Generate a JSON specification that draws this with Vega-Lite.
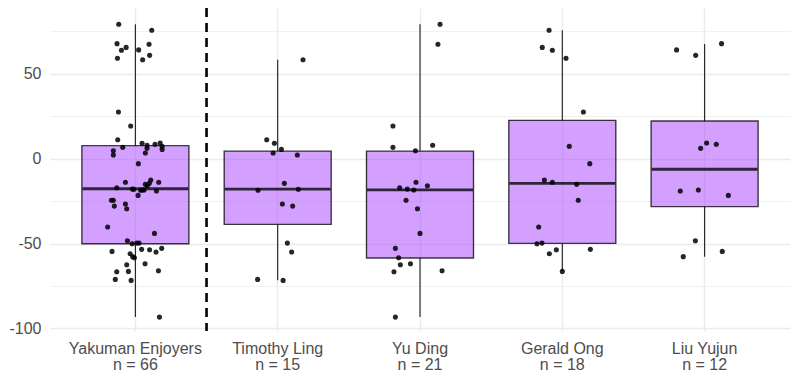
{
  "$schema": "https://vega.github.io/schema/vega-lite/v6.json",
  "width": 740,
  "height": 323,
  "autosize": {"type": "none"},
  "padding": {"left": 50, "top": 8, "right": 10, "bottom": 52},
  "background": "white",
  "config": {
    "view": {"stroke": null},
    "axis": {
      "domain": false,
      "ticks": false,
      "tickSize": 0,
      "labelFont": "Liberation Sans",
      "labelFontSize": 16,
      "labelColor": "#4D4D4D",
      "gridColor": "#EBEBEB",
      "gridWidth": 1.4,
      "title": null
    }
  },
  "datasets": {
    "boxes": [
      {"player": "Yakuman Enjoyers\nn = 66", "min": -93.3, "q1": -50.1, "median": -17.7, "q3": 7.7, "max": 79.2},
      {"player": "Timothy Ling\nn = 15", "min": -71.6, "q1": -38.7, "median": -17.9, "q3": 4.5, "max": 58.3},
      {"player": "Yu Ding\nn = 21", "min": -93.3, "q1": -58.5, "median": -18.3, "q3": 4.5, "max": 79.2},
      {"player": "Gerald Ong\nn = 18", "min": -66.4, "q1": -49.9, "median": -14.5, "q3": 22.6, "max": 75.7},
      {"player": "Liu Yujun\nn = 12", "min": -57.7, "q1": -28.2, "median": -6.2, "q3": 22.2, "max": 67.6}
    ],
    "points": [
      {"player": "Yakuman Enjoyers\nn = 66", "score": 79.2, "jitter": -0.117},
      {"player": "Yakuman Enjoyers\nn = 66", "score": 75.7, "jitter": 0.115},
      {"player": "Yakuman Enjoyers\nn = 66", "score": 67.8, "jitter": -0.129},
      {"player": "Yakuman Enjoyers\nn = 66", "score": 67.4, "jitter": 0.096},
      {"player": "Yakuman Enjoyers\nn = 66", "score": 65.6, "jitter": -0.065},
      {"player": "Yakuman Enjoyers\nn = 66", "score": 63.9, "jitter": -0.098},
      {"player": "Yakuman Enjoyers\nn = 66", "score": 64.1, "jitter": 0.023},
      {"player": "Yakuman Enjoyers\nn = 66", "score": 60.9, "jitter": 0.1},
      {"player": "Yakuman Enjoyers\nn = 66", "score": 59.2, "jitter": -0.126},
      {"player": "Yakuman Enjoyers\nn = 66", "score": 58.3, "jitter": 0.051},
      {"player": "Yakuman Enjoyers\nn = 66", "score": 27.5, "jitter": -0.119},
      {"player": "Yakuman Enjoyers\nn = 66", "score": 19.3, "jitter": -0.033},
      {"player": "Yakuman Enjoyers\nn = 66", "score": 11.2, "jitter": -0.124},
      {"player": "Yakuman Enjoyers\nn = 66", "score": 9.1, "jitter": 0.047},
      {"player": "Yakuman Enjoyers\nn = 66", "score": 7.9, "jitter": 0.082},
      {"player": "Yakuman Enjoyers\nn = 66", "score": 8.5, "jitter": 0.138},
      {"player": "Yakuman Enjoyers\nn = 66", "score": 9.3, "jitter": 0.174},
      {"player": "Yakuman Enjoyers\nn = 66", "score": 7.3, "jitter": 0.188},
      {"player": "Yakuman Enjoyers\nn = 66", "score": 5.5, "jitter": 0.188},
      {"player": "Yakuman Enjoyers\nn = 66", "score": 6.7, "jitter": -0.089},
      {"player": "Yakuman Enjoyers\nn = 66", "score": 6.1, "jitter": 0.082},
      {"player": "Yakuman Enjoyers\nn = 66", "score": 4.7, "jitter": -0.155},
      {"player": "Yakuman Enjoyers\nn = 66", "score": 2.2, "jitter": -0.155},
      {"player": "Yakuman Enjoyers\nn = 66", "score": 3.4, "jitter": 0.07},
      {"player": "Yakuman Enjoyers\nn = 66", "score": -2.9, "jitter": 0.021},
      {"player": "Yakuman Enjoyers\nn = 66", "score": -13.9, "jitter": -0.07},
      {"player": "Yakuman Enjoyers\nn = 66", "score": -12.6, "jitter": 0.108},
      {"player": "Yakuman Enjoyers\nn = 66", "score": -13.9, "jitter": 0.164},
      {"player": "Yakuman Enjoyers\nn = 66", "score": -14.5, "jitter": 0.098},
      {"player": "Yakuman Enjoyers\nn = 66", "score": -15.9, "jitter": 0.084},
      {"player": "Yakuman Enjoyers\nn = 66", "score": -17.1, "jitter": -0.131},
      {"player": "Yakuman Enjoyers\nn = 66", "score": -17.9, "jitter": -0.021},
      {"player": "Yakuman Enjoyers\nn = 66", "score": -18.6, "jitter": 0.037},
      {"player": "Yakuman Enjoyers\nn = 66", "score": -18.4, "jitter": 0.061},
      {"player": "Yakuman Enjoyers\nn = 66", "score": -19.0, "jitter": 0.148},
      {"player": "Yakuman Enjoyers\nn = 66", "score": -21.6, "jitter": 0.019},
      {"player": "Yakuman Enjoyers\nn = 66", "score": -24.5, "jitter": -0.169},
      {"player": "Yakuman Enjoyers\nn = 66", "score": -26.7, "jitter": -0.07},
      {"player": "Yakuman Enjoyers\nn = 66", "score": -27.9, "jitter": -0.148},
      {"player": "Yakuman Enjoyers\nn = 66", "score": -29.5, "jitter": -0.061},
      {"player": "Yakuman Enjoyers\nn = 66", "score": -15.1, "jitter": 0.07},
      {"player": "Yakuman Enjoyers\nn = 66", "score": -18.0, "jitter": -0.011},
      {"player": "Yakuman Enjoyers\nn = 66", "score": -18.4, "jitter": 0.049},
      {"player": "Yakuman Enjoyers\nn = 66", "score": -24.5, "jitter": -0.155},
      {"player": "Yakuman Enjoyers\nn = 66", "score": -40.2, "jitter": -0.195},
      {"player": "Yakuman Enjoyers\nn = 66", "score": -44.0, "jitter": 0.134},
      {"player": "Yakuman Enjoyers\nn = 66", "score": -48.3, "jitter": -0.056},
      {"player": "Yakuman Enjoyers\nn = 66", "score": -50.1, "jitter": -0.023},
      {"player": "Yakuman Enjoyers\nn = 66", "score": -49.7, "jitter": 0.009},
      {"player": "Yakuman Enjoyers\nn = 66", "score": -49.7, "jitter": 0.026},
      {"player": "Yakuman Enjoyers\nn = 66", "score": -54.6, "jitter": -0.164},
      {"player": "Yakuman Enjoyers\nn = 66", "score": -53.4, "jitter": 0.044},
      {"player": "Yakuman Enjoyers\nn = 66", "score": -53.6, "jitter": 0.1},
      {"player": "Yakuman Enjoyers\nn = 66", "score": -55.0, "jitter": 0.145},
      {"player": "Yakuman Enjoyers\nn = 66", "score": -52.8, "jitter": 0.185},
      {"player": "Yakuman Enjoyers\nn = 66", "score": -56.0, "jitter": -0.037},
      {"player": "Yakuman Enjoyers\nn = 66", "score": -57.7, "jitter": -0.019},
      {"player": "Yakuman Enjoyers\nn = 66", "score": -58.3, "jitter": -0.007},
      {"player": "Yakuman Enjoyers\nn = 66", "score": -61.9, "jitter": 0.068},
      {"player": "Yakuman Enjoyers\nn = 66", "score": -62.5, "jitter": -0.061},
      {"player": "Yakuman Enjoyers\nn = 66", "score": -66.6, "jitter": -0.131},
      {"player": "Yakuman Enjoyers\nn = 66", "score": -66.4, "jitter": -0.049},
      {"player": "Yakuman Enjoyers\nn = 66", "score": -66.0, "jitter": 0.162},
      {"player": "Yakuman Enjoyers\nn = 66", "score": -71.1, "jitter": -0.141},
      {"player": "Yakuman Enjoyers\nn = 66", "score": -71.7, "jitter": -0.03},
      {"player": "Yakuman Enjoyers\nn = 66", "score": -93.3, "jitter": 0.169},

      {"player": "Timothy Ling\nn = 15", "score": 58.3, "jitter": 0.178},
      {"player": "Timothy Ling\nn = 15", "score": 11.2, "jitter": -0.077},
      {"player": "Timothy Ling\nn = 15", "score": 9.1, "jitter": -0.023},
      {"player": "Timothy Ling\nn = 15", "score": 5.5, "jitter": 0.026},
      {"player": "Timothy Ling\nn = 15", "score": 3.4, "jitter": -0.032},
      {"player": "Timothy Ling\nn = 15", "score": 2.2, "jitter": 0.138},
      {"player": "Timothy Ling\nn = 15", "score": -14.5, "jitter": 0.047},
      {"player": "Timothy Ling\nn = 15", "score": -18.6, "jitter": -0.138},
      {"player": "Timothy Ling\nn = 15", "score": -18.0, "jitter": 0.145},
      {"player": "Timothy Ling\nn = 15", "score": -26.7, "jitter": 0.033},
      {"player": "Timothy Ling\nn = 15", "score": -27.9, "jitter": 0.105},
      {"player": "Timothy Ling\nn = 15", "score": -49.7, "jitter": 0.068},
      {"player": "Timothy Ling\nn = 15", "score": -55.0, "jitter": 0.098},
      {"player": "Timothy Ling\nn = 15", "score": -71.1, "jitter": -0.141},
      {"player": "Timothy Ling\nn = 15", "score": -71.7, "jitter": 0.038},

      {"player": "Yu Ding\nn = 21", "score": 79.2, "jitter": 0.141},
      {"player": "Yu Ding\nn = 21", "score": 67.4, "jitter": 0.126},
      {"player": "Yu Ding\nn = 21", "score": 19.3, "jitter": -0.19},
      {"player": "Yu Ding\nn = 21", "score": 6.7, "jitter": -0.19},
      {"player": "Yu Ding\nn = 21", "score": 7.9, "jitter": 0.089},
      {"player": "Yu Ding\nn = 21", "score": 4.7, "jitter": -0.032},
      {"player": "Yu Ding\nn = 21", "score": -13.9, "jitter": -0.028},
      {"player": "Yu Ding\nn = 21", "score": -15.9, "jitter": 0.052},
      {"player": "Yu Ding\nn = 21", "score": -17.1, "jitter": -0.143},
      {"player": "Yu Ding\nn = 21", "score": -17.9, "jitter": -0.089},
      {"player": "Yu Ding\nn = 21", "score": -18.4, "jitter": -0.044},
      {"player": "Yu Ding\nn = 21", "score": -24.5, "jitter": -0.098},
      {"player": "Yu Ding\nn = 21", "score": -29.5, "jitter": -0.018},
      {"player": "Yu Ding\nn = 21", "score": -44.0, "jitter": 0.0},
      {"player": "Yu Ding\nn = 21", "score": -52.8, "jitter": -0.173},
      {"player": "Yu Ding\nn = 21", "score": -58.3, "jitter": -0.15},
      {"player": "Yu Ding\nn = 21", "score": -62.5, "jitter": -0.138},
      {"player": "Yu Ding\nn = 21", "score": -61.9, "jitter": -0.067},
      {"player": "Yu Ding\nn = 21", "score": -66.6, "jitter": -0.183},
      {"player": "Yu Ding\nn = 21", "score": -66.0, "jitter": 0.155},
      {"player": "Yu Ding\nn = 21", "score": -93.3, "jitter": -0.173},

      {"player": "Gerald Ong\nn = 18", "score": 75.7, "jitter": -0.093},
      {"player": "Gerald Ong\nn = 18", "score": 65.6, "jitter": -0.141},
      {"player": "Gerald Ong\nn = 18", "score": 63.9, "jitter": -0.07},
      {"player": "Gerald Ong\nn = 18", "score": 59.2, "jitter": 0.026},
      {"player": "Gerald Ong\nn = 18", "score": 27.5, "jitter": 0.148},
      {"player": "Gerald Ong\nn = 18", "score": 7.3, "jitter": 0.049},
      {"player": "Gerald Ong\nn = 18", "score": -2.9, "jitter": 0.193},
      {"player": "Gerald Ong\nn = 18", "score": -12.6, "jitter": -0.126},
      {"player": "Gerald Ong\nn = 18", "score": -13.9, "jitter": -0.07},
      {"player": "Gerald Ong\nn = 18", "score": -15.1, "jitter": 0.101},
      {"player": "Gerald Ong\nn = 18", "score": -24.5, "jitter": 0.112},
      {"player": "Gerald Ong\nn = 18", "score": -40.2, "jitter": -0.166},
      {"player": "Gerald Ong\nn = 18", "score": -50.1, "jitter": -0.178},
      {"player": "Gerald Ong\nn = 18", "score": -49.7, "jitter": -0.143},
      {"player": "Gerald Ong\nn = 18", "score": -53.6, "jitter": -0.042},
      {"player": "Gerald Ong\nn = 18", "score": -53.4, "jitter": 0.197},
      {"player": "Gerald Ong\nn = 18", "score": -56.0, "jitter": -0.091},
      {"player": "Gerald Ong\nn = 18", "score": -66.4, "jitter": 0.0},

      {"player": "Liu Yujun\nn = 12", "score": 67.8, "jitter": 0.119},
      {"player": "Liu Yujun\nn = 12", "score": 64.1, "jitter": -0.197},
      {"player": "Liu Yujun\nn = 12", "score": 60.9, "jitter": -0.063},
      {"player": "Liu Yujun\nn = 12", "score": 9.3, "jitter": 0.014},
      {"player": "Liu Yujun\nn = 12", "score": 8.5, "jitter": 0.082},
      {"player": "Liu Yujun\nn = 12", "score": 6.1, "jitter": -0.028},
      {"player": "Liu Yujun\nn = 12", "score": -19.0, "jitter": -0.171},
      {"player": "Liu Yujun\nn = 12", "score": -18.4, "jitter": -0.044},
      {"player": "Liu Yujun\nn = 12", "score": -21.6, "jitter": 0.167},
      {"player": "Liu Yujun\nn = 12", "score": -48.3, "jitter": -0.065},
      {"player": "Liu Yujun\nn = 12", "score": -54.6, "jitter": 0.124},
      {"player": "Liu Yujun\nn = 12", "score": -57.7, "jitter": -0.15}
    ]
  },
  "encoding": {
    "x": {
      "field": "player",
      "type": "nominal",
      "scale": {
        "domain": ["Yakuman Enjoyers\nn = 66", "Timothy Ling\nn = 15", "Yu Ding\nn = 21", "Gerald Ong\nn = 18", "Liu Yujun\nn = 12"],
        "paddingInner": 0,
        "paddingOuter": 0.1
      },
      "axis": {
        "title": null,
        "labelExpr": "split(datum.label, '\\n')",
        "labelAngle": 0,
        "labelPadding": 9,
        "labelLineHeight": 16,
        "labelBaseline": "top",
        "grid": true,
        "bandPosition": 0.5
      }
    }
  },
  "layer": [
    {
      "data": {"name": "boxes"},
      "mark": {"type": "rule", "color": "#1a1a1a", "strokeWidth": 1.1},
      "encoding": {
        "y": {
          "field": "q3",
          "type": "quantitative",
          "scale": {"domain": [-101.5, 88.8], "nice": false, "zero": false},
          "axis": {"orient": "right", "values": [-75, -25, 25, 75], "labels": false, "grid": true, "gridWidth": 0.8, "gridColor": "#EDEDED", "title": null}
        },
        "y2": {"field": "max"}
      }
    },
    {
      "data": {"name": "boxes"},
      "mark": {"type": "rule", "color": "#1a1a1a", "strokeWidth": 1.1},
      "encoding": {
        "y": {"field": "min", "type": "quantitative", "scale": {"domain": [-101.5, 88.8], "nice": false, "zero": false}, "axis": null},
        "y2": {"field": "q1"}
      }
    },
    {
      "data": {"name": "boxes"},
      "mark": {"type": "bar", "width": 107, "fill": "#A841FF", "fillOpacity": 0.5, "stroke": "#000000", "strokeOpacity": 0.75, "strokeWidth": 1.4},
      "encoding": {
        "y": {"field": "q1", "type": "quantitative", "scale": {"domain": [-101.5, 88.8], "nice": false, "zero": false}, "axis": null},
        "y2": {"field": "q3"}
      }
    },
    {
      "data": {"name": "boxes"},
      "mark": {"type": "tick", "size": 106, "thickness": 2.8, "color": "#1e1626", "opacity": 0.9},
      "encoding": {
        "y": {"field": "median", "type": "quantitative", "scale": {"domain": [-101.5, 88.8], "nice": false, "zero": false}, "axis": null}
      }
    },
    {
      "data": {"values": [{"player": "Yakuman Enjoyers\nn = 66"}]},
      "mark": {"type": "rule", "color": "black", "strokeWidth": 2.6, "strokeDash": [9, 6]},
      "encoding": {
        "x": {
          "field": "player",
          "type": "nominal",
          "bandPosition": 1
        }
      }
    },
    {
      "data": {"name": "points"},
      "mark": {"type": "circle", "size": 26, "color": "black", "opacity": 0.85},
      "encoding": {
        "xOffset": {"field": "jitter", "type": "quantitative", "scale": {"domain": [-0.5, 0.5]}},
        "y": {
          "field": "score",
          "type": "quantitative",
          "scale": {"domain": [-101.5, 88.8], "nice": false, "zero": false},
          "axis": {"values": [-100, -50, 0, 50], "grid": true, "labelPadding": 9, "labelExpr": "'' + datum.value", "title": null}
        }
      }
    }
  ],
  "resolve": {"axis": {"y": "independent"}}
}
